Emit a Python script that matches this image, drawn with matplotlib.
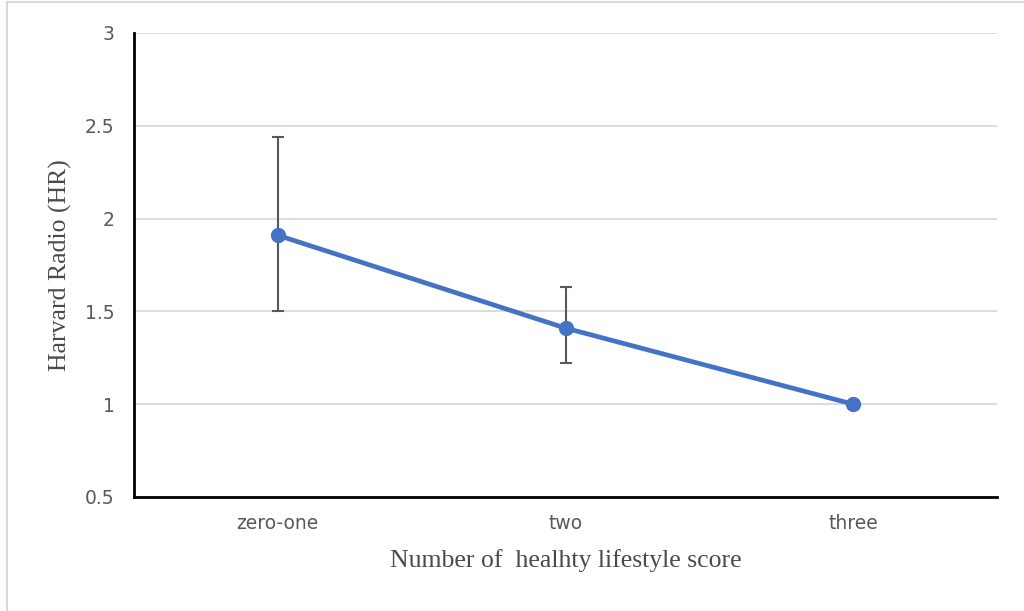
import matplotlib
matplotlib.use('Agg')
import matplotlib.pyplot as plt
from matplotlib.patches import Rectangle

categories = ['zero-one', 'two', 'three']
hr = [1.91, 1.41, 1.00]
hr_upper = [2.44, 1.63, 1.00]
hr_lower = [1.50, 1.22, 1.00]

yerr = [[h - lo for h, lo in zip(hr, hr_lower)],
        [up - h for h, up in zip(hr, hr_upper)]]

fig = plt.figure(figsize=(10.24, 6.11), dpi=100)
# outer chart border
fig.patches.append(Rectangle((7 / 1024, -0.1), 1.2, 1 - 2 / 611 + 0.1,
                             transform=fig.transFigure, fill=False,
                             edgecolor='#d9d9d9', linewidth=1.5))
ax = fig.add_axes([134 / 1024, 1 - 497 / 611, (997 - 134) / 1024, (497 - 33) / 611])

x = list(range(len(categories)))
ax.errorbar(x, hr, yerr=yerr, fmt='none', ecolor='#595959', elinewidth=1.5,
            capsize=4.3, capthick=1.5, zorder=2)
ax.plot(x, hr, color='#4472C4', linewidth=3.4, marker='o', markersize=10, zorder=3)

ax.set_xlim(-0.5, 2.5)
ax.set_ylim(0.5, 3)
ax.set_yticks([0.5, 1, 1.5, 2, 2.5, 3])
ax.set_yticklabels(['0.5', '1', '1.5', '2', '2.5', '3'])
ax.set_xticks(x)
ax.set_xticklabels(categories)
ax.tick_params(length=0, labelsize=13.5, labelcolor='#595959')
ax.tick_params(axis='y', pad=14)
ax.tick_params(axis='x', pad=12)

ax.grid(axis='y', color='#d9d9d9', linewidth=1.3)
ax.set_axisbelow(True)
for s in ['top', 'right']:
    ax.spines[s].set_visible(False)
for s in ['left', 'bottom']:
    ax.spines[s].set_linewidth(2)
    ax.spines[s].set_color('black')

ax.set_ylabel('Harvard Radio (HR)', family='Liberation Serif', fontsize=18.5, color='#4a4a4a', labelpad=9)
ax.set_xlabel('Number of  healhty lifestyle score', family='Liberation Serif', fontsize=18.5,
              color='#4a4a4a', labelpad=12)

fig.savefig('out.png', dpi=100)
